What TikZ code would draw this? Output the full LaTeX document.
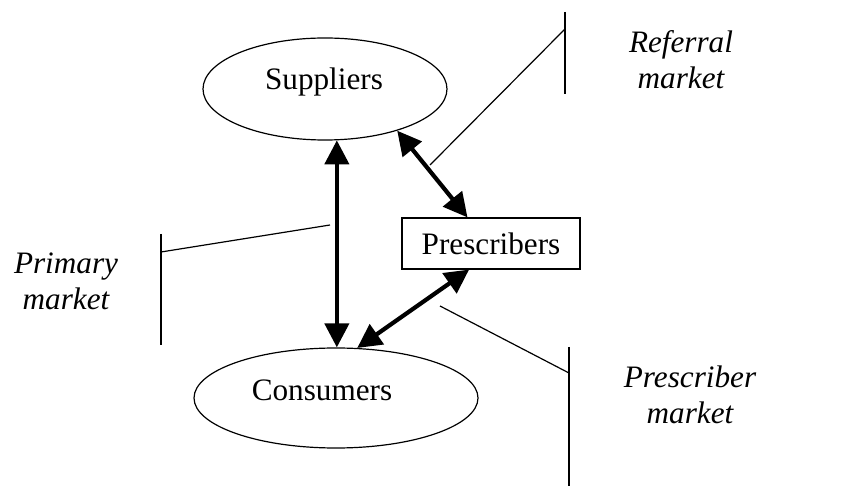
\documentclass[tikz,border=0pt]{standalone}
\usepackage{fontspec}
\setmainfont{Liberation Serif}
\usetikzlibrary{shapes.geometric,arrows.meta}

\begin{document}
\begin{tikzpicture}[x=0.5pt,y=-0.5pt,
   every node/.style={font=\fontsize{15.6pt}{18pt}\selectfont},
   party/.style={draw,ellipse,line width=0.6pt,inner sep=0pt},
   link/.style={{Triangle[width=12pt,length=12pt]}-{Triangle[width=12pt,length=12pt]},line width=2.1pt},
   bracket/.style={line width=0.6pt},
   marketlabel/.style={align=center,font=\fontsize{15.6pt}{18pt}\selectfont\itshape}]
         \useasboundingbox (0,0) rectangle (853,486) ;
         % the three parties
         \node[party,minimum width=122pt,minimum height=51pt] (sup) at (325,89) {} ;
         \node (suplabel) at (324,82) {Suppliers} ;
         \node[party,minimum width=142pt,minimum height=50pt] (cons) at (336,398) {} ;
         \node (conslabel) at (322,390) {Consumers} ;
         \node[draw,line width=0.6pt,minimum width=89pt,minimum height=25.5pt,inner sep=0pt]
         (pres) at (491,243.5) {Prescribers} ;
         % relations
         \draw[link] (sup.-77) -- (sup.-77 |- cons.north) ;
         \draw[link] (sup.-30) -- (pres.132) ;
         \draw[link] (pres.230) -- (cons.67) ;
         % primary market
         \coordinate (primtop) at (161,234) ;
         \coordinate (primbot) at (161,345) ;
         \coordinate (primjoin) at (161,252) ;
         \coordinate (primhook) at (330,225) ;
         \draw[bracket] (primtop) -- (primbot) ;
         \draw[bracket] (primjoin) -- (primhook) ;
         \node[marketlabel] (primlabel) at (66,281) {Primary\\market} ;
         % referral market
         \coordinate (reftop) at (565,12) ;
         \coordinate (refbot) at (565,94) ;
         \coordinate (refjoin) at (565,29) ;
         \coordinate (refhook) at (430,165) ;
         \draw[bracket] (reftop) -- (refbot) ;
         \draw[bracket] (refjoin) -- (refhook) ;
         \node[marketlabel] (reflabel) at (681,60) {Referral\\market} ;
         % prescriber market
         \coordinate (prestop) at (569,347) ;
         \coordinate (presbot) at (569,486) ;
         \coordinate (presjoin) at (569,373) ;
         \coordinate (preshook) at (440,306) ;
         \draw[bracket] (prestop) -- (presbot) ;
         \draw[bracket] (presjoin) -- (preshook) ;
         \node[marketlabel] (preslabel) at (690,395) {Prescriber\\market} ;
      \end{tikzpicture}
\end{document}
